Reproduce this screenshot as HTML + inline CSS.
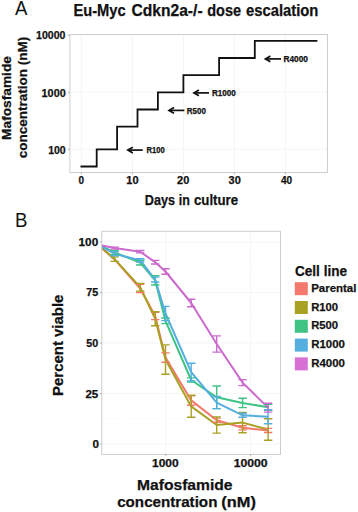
<!DOCTYPE html>
<html><head><meta charset="utf-8"><style>
html,body{margin:0;padding:0;background:#fff;}
svg{display:block;font-family:"Liberation Sans",sans-serif;}
</style></head><body>
<svg width="358" height="512" viewBox="0 0 358 512">
<rect width="358" height="512" fill="#fff"/>
<line x1="81.40" y1="34.50" x2="81.40" y2="172.50" stroke="#f3f3f3" stroke-width="0.8"/>
<line x1="132.40" y1="34.50" x2="132.40" y2="172.50" stroke="#f3f3f3" stroke-width="0.8"/>
<line x1="183.40" y1="34.50" x2="183.40" y2="172.50" stroke="#f3f3f3" stroke-width="0.8"/>
<line x1="234.40" y1="34.50" x2="234.40" y2="172.50" stroke="#f3f3f3" stroke-width="0.8"/>
<line x1="285.40" y1="34.50" x2="285.40" y2="172.50" stroke="#f3f3f3" stroke-width="0.8"/>
<line x1="69.90" y1="149.30" x2="327.40" y2="149.30" stroke="#f3f3f3" stroke-width="0.8"/>
<line x1="69.90" y1="92.30" x2="327.40" y2="92.30" stroke="#f3f3f3" stroke-width="0.8"/>
<rect x="69.9" y="34.5" width="257.50" height="138.00" fill="none" stroke="#cdcdcd" stroke-width="1"/>
<line x1="67.80" y1="149.30" x2="69.90" y2="149.30" stroke="#aaa" stroke-width="0.9"/>
<line x1="67.80" y1="92.30" x2="69.90" y2="92.30" stroke="#aaa" stroke-width="0.9"/>
<line x1="67.80" y1="35.30" x2="69.90" y2="35.30" stroke="#aaa" stroke-width="0.9"/>
<line x1="81.40" y1="172.50" x2="81.40" y2="174.30" stroke="#aaa" stroke-width="0.9"/>
<line x1="132.40" y1="172.50" x2="132.40" y2="174.30" stroke="#aaa" stroke-width="0.9"/>
<line x1="183.40" y1="172.50" x2="183.40" y2="174.30" stroke="#aaa" stroke-width="0.9"/>
<line x1="234.40" y1="172.50" x2="234.40" y2="174.30" stroke="#aaa" stroke-width="0.9"/>
<line x1="285.40" y1="172.50" x2="285.40" y2="174.30" stroke="#aaa" stroke-width="0.9"/>
<polyline fill="none" stroke="#111" stroke-width="1.8" stroke-linecap="square" points="81.4,166.5 96.7,166.5 96.7,149.3 117.1,149.3 117.1,126.6 137.5,126.6 137.5,109.5 157.9,109.5 157.9,92.3 183.4,92.3 183.4,75.1 219.1,75.1 219.1,58.0 254.8,58.0 254.8,40.8 316.5,40.8"/>
<line x1="128.2" y1="150.1" x2="142.7" y2="150.1" stroke="#111" stroke-width="1.7"/>
<path d="M132.8,147.2 L127.8,150.1 L132.8,153.0" fill="none" stroke="#111" stroke-width="1.7" stroke-linejoin="miter"/>
<line x1="169.4" y1="110.4" x2="184.4" y2="110.4" stroke="#111" stroke-width="1.7"/>
<path d="M174.0,107.5 L169.0,110.4 L174.0,113.30000000000001" fill="none" stroke="#111" stroke-width="1.7" stroke-linejoin="miter"/>
<line x1="194.3" y1="92.9" x2="209" y2="92.9" stroke="#111" stroke-width="1.7"/>
<path d="M198.9,90.0 L193.9,92.9 L198.9,95.80000000000001" fill="none" stroke="#111" stroke-width="1.7" stroke-linejoin="miter"/>
<line x1="265.8" y1="58.9" x2="281" y2="58.9" stroke="#111" stroke-width="1.7"/>
<path d="M270.40000000000003,56.0 L265.40000000000003,58.9 L270.40000000000003,61.8" fill="none" stroke="#111" stroke-width="1.7" stroke-linejoin="miter"/>
<line x1="101.80" y1="418.75" x2="280.50" y2="418.75" stroke="#fafafa" stroke-width="0.6"/>
<line x1="101.80" y1="368.25" x2="280.50" y2="368.25" stroke="#fafafa" stroke-width="0.6"/>
<line x1="101.80" y1="317.75" x2="280.50" y2="317.75" stroke="#fafafa" stroke-width="0.6"/>
<line x1="101.80" y1="267.25" x2="280.50" y2="267.25" stroke="#fafafa" stroke-width="0.6"/>
<line x1="123.40" y1="231.30" x2="123.40" y2="454.40" stroke="#fafafa" stroke-width="0.6"/>
<line x1="208.20" y1="231.30" x2="208.20" y2="454.40" stroke="#fafafa" stroke-width="0.6"/>
<line x1="101.80" y1="444.00" x2="280.50" y2="444.00" stroke="#f3f3f3" stroke-width="0.8"/>
<line x1="101.80" y1="393.50" x2="280.50" y2="393.50" stroke="#f3f3f3" stroke-width="0.8"/>
<line x1="101.80" y1="343.00" x2="280.50" y2="343.00" stroke="#f3f3f3" stroke-width="0.8"/>
<line x1="101.80" y1="292.50" x2="280.50" y2="292.50" stroke="#f3f3f3" stroke-width="0.8"/>
<line x1="101.80" y1="242.00" x2="280.50" y2="242.00" stroke="#f3f3f3" stroke-width="0.8"/>
<line x1="165.80" y1="231.30" x2="165.80" y2="454.40" stroke="#f3f3f3" stroke-width="0.8"/>
<line x1="250.60" y1="231.30" x2="250.60" y2="454.40" stroke="#f3f3f3" stroke-width="0.8"/>
<rect x="101.8" y="231.3" width="178.70" height="223.10" fill="none" stroke="#cdcdcd" stroke-width="1"/>
<line x1="100.00" y1="444.00" x2="101.80" y2="444.00" stroke="#aaa" stroke-width="0.9"/>
<line x1="100.00" y1="393.50" x2="101.80" y2="393.50" stroke="#aaa" stroke-width="0.9"/>
<line x1="100.00" y1="343.00" x2="101.80" y2="343.00" stroke="#aaa" stroke-width="0.9"/>
<line x1="100.00" y1="292.50" x2="101.80" y2="292.50" stroke="#aaa" stroke-width="0.9"/>
<line x1="100.00" y1="242.00" x2="101.80" y2="242.00" stroke="#aaa" stroke-width="0.9"/>
<line x1="165.80" y1="454.40" x2="165.80" y2="456.20" stroke="#aaa" stroke-width="0.9"/>
<line x1="250.60" y1="454.40" x2="250.60" y2="456.20" stroke="#aaa" stroke-width="0.9"/>
<clipPath id="cb"><rect x="101.8" y="231.3" width="178.70" height="223.10"/></clipPath><g clip-path="url(#cb)">
<polyline fill="none" stroke="#f4786c" stroke-width="2" stroke-linejoin="round" points="101.9,248.3 114.6,259.4 140.2,288.5 155.2,315.9 165.5,357.5 191.2,400.4 216.7,420.2 242.6,427.8 268.1,430.5"/>
<polyline fill="none" stroke="#a8a124" stroke-width="2" stroke-linejoin="round" points="101.9,247.7 114.6,259.2 140.2,287.2 155.2,318.8 165.5,359.6 191.2,406.4 216.7,425.0 242.6,422.6 268.1,429.5"/>
<polyline fill="none" stroke="#3ec385" stroke-width="2" stroke-linejoin="round" points="101.9,246.4 114.6,252.5 140.2,262.6 155.2,280.4 165.5,320.8 191.2,380.0 216.7,397.3 242.6,403.0 268.1,407.2"/>
<polyline fill="none" stroke="#55aee0" stroke-width="2" stroke-linejoin="round" points="101.9,246.8 114.6,253.7 140.2,260.4 155.2,279.6 165.5,313.5 191.2,372.1 216.7,402.6 242.6,415.3 268.1,416.7"/>
<polyline fill="none" stroke="#cc6ace" stroke-width="2" stroke-linejoin="round" points="101.9,245.6 114.6,248.1 140.2,251.7 155.2,262.2 165.5,271.5 191.2,303.0 216.7,344.0 242.6,382.6 268.1,407.6"/>
<path d="M136.0,284.4H144.4M140.2,284.4V292.5M136.0,292.5H144.4" stroke="#f4786c" stroke-width="1.4" fill="none"/>
<path d="M151.0,312.3H159.4M155.2,312.3V319.6M151.0,319.6H159.4" stroke="#f4786c" stroke-width="1.4" fill="none"/>
<path d="M161.3,352.9H169.7M165.5,352.9V362.2M161.3,362.2H169.7" stroke="#f4786c" stroke-width="1.4" fill="none"/>
<path d="M187.0,395.5H195.4M191.2,395.5V405.2M187.0,405.2H195.4" stroke="#f4786c" stroke-width="1.4" fill="none"/>
<path d="M212.5,418.1H220.9M216.7,418.1V422.2M212.5,422.2H220.9" stroke="#f4786c" stroke-width="1.4" fill="none"/>
<path d="M238.4,425.8H246.8M242.6,425.8V429.9M238.4,429.9H246.8" stroke="#f4786c" stroke-width="1.4" fill="none"/>
<path d="M263.9,428.4H272.3M268.1,428.4V432.5M263.9,432.5H272.3" stroke="#f4786c" stroke-width="1.4" fill="none"/>
<path d="M110.4,256.9H118.8M114.6,256.9V261.4M110.4,261.4H118.8" stroke="#a8a124" stroke-width="1.4" fill="none"/>
<path d="M136.0,283.4H144.4M140.2,283.4V291.1M136.0,291.1H144.4" stroke="#a8a124" stroke-width="1.4" fill="none"/>
<path d="M151.0,311.7H159.4M155.2,311.7V325.8M151.0,325.8H159.4" stroke="#a8a124" stroke-width="1.4" fill="none"/>
<path d="M161.3,344.9H169.7M165.5,344.9V374.2M161.3,374.2H169.7" stroke="#a8a124" stroke-width="1.4" fill="none"/>
<path d="M187.0,395.5H195.4M191.2,395.5V417.3M187.0,417.3H195.4" stroke="#a8a124" stroke-width="1.4" fill="none"/>
<path d="M212.5,416.9H220.9M216.7,416.9V433.1M212.5,433.1H220.9" stroke="#a8a124" stroke-width="1.4" fill="none"/>
<path d="M238.4,412.5H246.8M242.6,412.5V432.7M238.4,432.7H246.8" stroke="#a8a124" stroke-width="1.4" fill="none"/>
<path d="M263.9,418.8H272.3M268.1,418.8V440.2M263.9,440.2H272.3" stroke="#a8a124" stroke-width="1.4" fill="none"/>
<path d="M110.4,250.5H118.8M114.6,250.5V254.5M110.4,254.5H118.8" stroke="#3ec385" stroke-width="1.4" fill="none"/>
<path d="M136.0,260.2H144.4M140.2,260.2V265.0M136.0,265.0H144.4" stroke="#3ec385" stroke-width="1.4" fill="none"/>
<path d="M151.0,275.7H159.4M155.2,275.7V285.0M151.0,285.0H159.4" stroke="#3ec385" stroke-width="1.4" fill="none"/>
<path d="M161.3,318.0H169.7M165.5,318.0V323.6M161.3,323.6H169.7" stroke="#3ec385" stroke-width="1.4" fill="none"/>
<path d="M187.0,377.9H195.4M191.2,377.9V382.0M187.0,382.0H195.4" stroke="#3ec385" stroke-width="1.4" fill="none"/>
<path d="M212.5,386.0H220.9M216.7,386.0V408.6M212.5,408.6H220.9" stroke="#3ec385" stroke-width="1.4" fill="none"/>
<path d="M238.4,398.3H246.8M242.6,398.3V407.6M238.4,407.6H246.8" stroke="#3ec385" stroke-width="1.4" fill="none"/>
<path d="M263.9,404.2H272.3M268.1,404.2V410.3M263.9,410.3H272.3" stroke="#3ec385" stroke-width="1.4" fill="none"/>
<path d="M110.4,251.7H118.8M114.6,251.7V255.7M110.4,255.7H118.8" stroke="#55aee0" stroke-width="1.4" fill="none"/>
<path d="M136.0,258.8H144.4M140.2,258.8V262.0M136.0,262.0H144.4" stroke="#55aee0" stroke-width="1.4" fill="none"/>
<path d="M151.0,277.1H159.4M155.2,277.1V282.0M151.0,282.0H159.4" stroke="#55aee0" stroke-width="1.4" fill="none"/>
<path d="M161.3,306.4H169.7M165.5,306.4V320.6M161.3,320.6H169.7" stroke="#55aee0" stroke-width="1.4" fill="none"/>
<path d="M187.0,363.2H195.4M191.2,363.2V381.0M187.0,381.0H195.4" stroke="#55aee0" stroke-width="1.4" fill="none"/>
<path d="M212.5,396.5H220.9M216.7,396.5V408.6M212.5,408.6H220.9" stroke="#55aee0" stroke-width="1.4" fill="none"/>
<path d="M238.4,413.3H246.8M242.6,413.3V417.3M238.4,417.3H246.8" stroke="#55aee0" stroke-width="1.4" fill="none"/>
<path d="M263.9,409.7H272.3M268.1,409.7V423.8M263.9,423.8H272.3" stroke="#55aee0" stroke-width="1.4" fill="none"/>
<path d="M110.4,247.1H118.8M114.6,247.1V249.1M110.4,249.1H118.8" stroke="#cc6ace" stroke-width="1.4" fill="none"/>
<path d="M136.0,250.5H144.4M140.2,250.5V252.9M136.0,252.9H144.4" stroke="#cc6ace" stroke-width="1.4" fill="none"/>
<path d="M151.0,260.4H159.4M155.2,260.4V264.0M151.0,264.0H159.4" stroke="#cc6ace" stroke-width="1.4" fill="none"/>
<path d="M161.3,268.7H169.7M165.5,268.7V274.3M161.3,274.3H169.7" stroke="#cc6ace" stroke-width="1.4" fill="none"/>
<path d="M187.0,299.2H195.4M191.2,299.2V306.8M187.0,306.8H195.4" stroke="#cc6ace" stroke-width="1.4" fill="none"/>
<path d="M212.5,335.9H220.9M216.7,335.9V352.1M212.5,352.1H220.9" stroke="#cc6ace" stroke-width="1.4" fill="none"/>
<path d="M238.4,379.6H246.8M242.6,379.6V385.6M238.4,385.6H246.8" stroke="#cc6ace" stroke-width="1.4" fill="none"/>
<path d="M263.9,403.2H272.3M268.1,403.2V412.1M263.9,412.1H272.3" stroke="#cc6ace" stroke-width="1.4" fill="none"/>
</g>
<rect x="294.8" y="282.2" width="13" height="13" fill="#f4786c"/>
<rect x="294.8" y="301.0" width="13" height="13" fill="#a8a124"/>
<rect x="294.8" y="319.8" width="13" height="13" fill="#3ec385"/>
<rect x="294.8" y="338.6" width="13" height="13" fill="#55aee0"/>
<rect x="294.8" y="357.4" width="13" height="13" fill="#d670d4"/>
<g fill="#111" stroke="#111" stroke-width="0.25">
<text id="t0" x="15.00" y="14.70" font-size="19.5" font-weight="normal" textLength="12.40" lengthAdjust="spacingAndGlyphs" stroke="none">A</text>
<text id="t1" x="73.40" y="16.40" font-size="16.6" font-weight="bold" textLength="52.30" lengthAdjust="spacingAndGlyphs">Eu-Myc</text>
<text id="t2" x="131.50" y="16.40" font-size="16.6" font-weight="bold" textLength="71.10" lengthAdjust="spacingAndGlyphs">Cdkn2a-/-</text>
<text id="t3" x="207.20" y="16.40" font-size="16.6" font-weight="bold" textLength="33.80" lengthAdjust="spacingAndGlyphs">dose</text>
<text id="t4" x="246.00" y="16.40" font-size="16.6" font-weight="bold" textLength="72.40" lengthAdjust="spacingAndGlyphs">escalation</text>
<text id="t5" x="36.00" y="38.90" font-size="10.3" font-weight="bold" textLength="29.40" lengthAdjust="spacingAndGlyphs">10000</text>
<text id="t6" x="41.60" y="96.50" font-size="10.3" font-weight="bold" textLength="24.10" lengthAdjust="spacingAndGlyphs">1000</text>
<text id="t7" x="48.20" y="154.00" font-size="10.3" font-weight="bold" textLength="17.50" lengthAdjust="spacingAndGlyphs">100</text>
<text id="t8" x="78.55" y="183.80" font-size="10.5" font-weight="bold" textLength="5.50" lengthAdjust="spacingAndGlyphs">0</text>
<text id="t9" x="126.30" y="183.80" font-size="10.5" font-weight="bold" textLength="12.20" lengthAdjust="spacingAndGlyphs">10</text>
<text id="t10" x="177.10" y="183.80" font-size="10.5" font-weight="bold" textLength="12.20" lengthAdjust="spacingAndGlyphs">20</text>
<text id="t11" x="228.60" y="183.80" font-size="10.5" font-weight="bold" textLength="12.20" lengthAdjust="spacingAndGlyphs">30</text>
<text id="t12" x="280.90" y="183.80" font-size="10.5" font-weight="bold" textLength="11.20" lengthAdjust="spacingAndGlyphs">40</text>
<text id="t13" x="144.80" y="204.70" font-size="15.5" font-weight="bold" textLength="30.20" lengthAdjust="spacingAndGlyphs">Days</text>
<text id="t14" x="178.70" y="204.70" font-size="15.5" font-weight="bold" textLength="11.10" lengthAdjust="spacingAndGlyphs">in</text>
<text id="t15" x="194.00" y="204.70" font-size="15.5" font-weight="bold" textLength="44.10" lengthAdjust="spacingAndGlyphs">culture</text>
<text id="t16" x="11.50" y="139.90" font-size="13.3" font-weight="bold" textLength="83.80" lengthAdjust="spacingAndGlyphs" transform="rotate(-90 11.50 139.90)">Mafosfamide</text>
<text id="t17" x="27.40" y="158.30" font-size="13.3" font-weight="bold" textLength="121.50" lengthAdjust="spacingAndGlyphs" transform="rotate(-90 27.40 158.30)">concentration (nM)</text>
<text id="t18" x="146.50" y="153.00" font-size="8.3" font-weight="bold" textLength="18.20" lengthAdjust="spacingAndGlyphs">R100</text>
<text id="t19" x="186.80" y="113.70" font-size="8.3" font-weight="bold" textLength="19.20" lengthAdjust="spacingAndGlyphs">R500</text>
<text id="t20" x="212.00" y="96.20" font-size="8.3" font-weight="bold" textLength="23.80" lengthAdjust="spacingAndGlyphs">R1000</text>
<text id="t21" x="283.40" y="61.50" font-size="8.3" font-weight="bold" textLength="24.50" lengthAdjust="spacingAndGlyphs">R4000</text>
<text id="t22" x="15.00" y="226.80" font-size="19.5" font-weight="normal" textLength="12.40" lengthAdjust="spacingAndGlyphs" stroke="none">B</text>
<text id="t23" x="78.60" y="245.70" font-size="10.5" font-weight="bold" textLength="19.60" lengthAdjust="spacingAndGlyphs">100</text>
<text id="t24" x="86.30" y="296.40" font-size="10.5" font-weight="bold" textLength="11.90" lengthAdjust="spacingAndGlyphs">75</text>
<text id="t25" x="86.30" y="346.70" font-size="10.5" font-weight="bold" textLength="11.90" lengthAdjust="spacingAndGlyphs">50</text>
<text id="t26" x="85.40" y="397.70" font-size="10.5" font-weight="bold" textLength="12.80" lengthAdjust="spacingAndGlyphs">25</text>
<text id="t27" x="92.50" y="447.90" font-size="10.5" font-weight="bold" textLength="6.50" lengthAdjust="spacingAndGlyphs">0</text>
<text id="t28" x="152.00" y="467.00" font-size="10.3" font-weight="bold" textLength="26.70" lengthAdjust="spacingAndGlyphs">1000</text>
<text id="t29" x="233.80" y="467.00" font-size="10.3" font-weight="bold" textLength="33.80" lengthAdjust="spacingAndGlyphs">10000</text>
<text id="t30" x="137.00" y="489.50" font-size="15.3" font-weight="bold" textLength="95.50" lengthAdjust="spacingAndGlyphs">Mafosfamide</text>
<text id="t31" x="117.20" y="507.10" font-size="15.3" font-weight="bold" textLength="100.20" lengthAdjust="spacingAndGlyphs">concentration</text>
<text id="t32" x="221.30" y="507.10" font-size="15.3" font-weight="bold" textLength="34.60" lengthAdjust="spacingAndGlyphs">(nM)</text>
<text id="t33" x="62.60" y="395.90" font-size="15.3" font-weight="bold" textLength="101.30" lengthAdjust="spacingAndGlyphs" transform="rotate(-90 62.60 395.90)">Percent viable</text>
<text id="t34" x="295.00" y="276.40" font-size="14.3" font-weight="bold" textLength="52.00" lengthAdjust="spacingAndGlyphs">Cell line</text>
<text id="t35" x="311.20" y="291.90" font-size="11.8" font-weight="bold" textLength="45.20" lengthAdjust="spacingAndGlyphs">Parental</text>
<text id="t36" x="311.20" y="310.65" font-size="11.8" font-weight="bold" textLength="26.90" lengthAdjust="spacingAndGlyphs">R100</text>
<text id="t37" x="311.20" y="329.40" font-size="11.8" font-weight="bold" textLength="26.90" lengthAdjust="spacingAndGlyphs">R500</text>
<text id="t38" x="311.20" y="348.15" font-size="11.8" font-weight="bold" textLength="33.70" lengthAdjust="spacingAndGlyphs">R1000</text>
<text id="t39" x="311.20" y="366.90" font-size="11.8" font-weight="bold" textLength="33.70" lengthAdjust="spacingAndGlyphs">R4000</text>
</g>
</svg></body></html>
